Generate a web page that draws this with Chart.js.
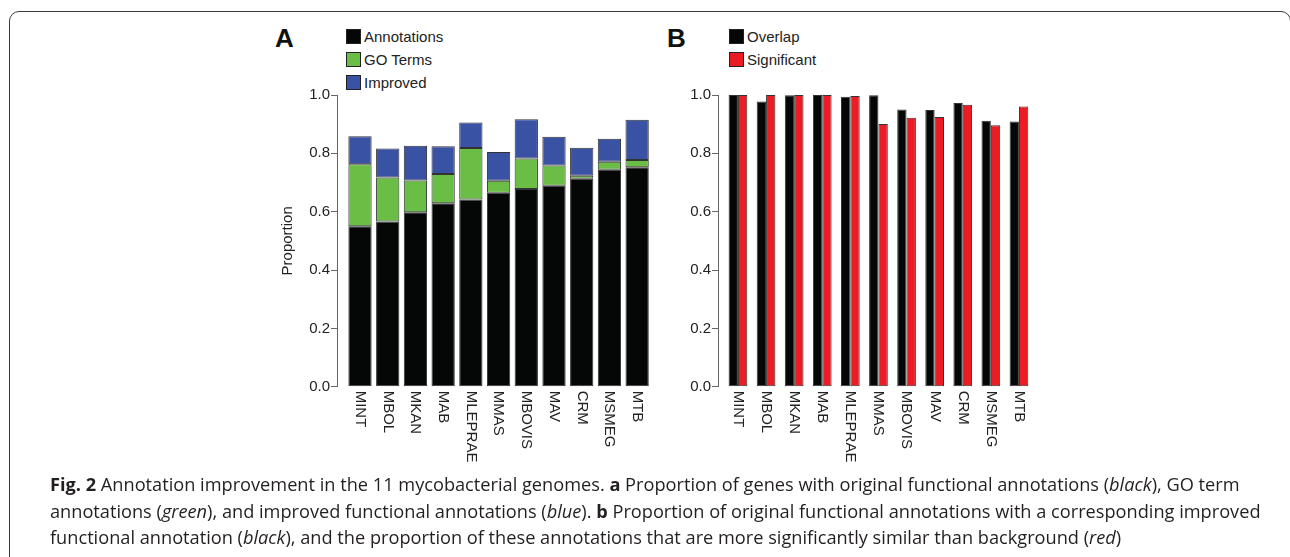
<!DOCTYPE html>
<html lang="en">
<head>
  <meta charset="UTF-8">
  <title>Fig. 2 Annotation improvement</title>
  <script src="https://cdn.jsdelivr.net/npm/chart.js"></script>
  <style>
    html, body {
      margin: 0;
      padding: 0;
      background: #fff;
      overflow: hidden;
      width: 1290px;
      height: 557px;
    }
    .frame {
      position: absolute;
      left: 9px;
      top: 11px;
      width: 1282px;
      height: 600px;
      border: 1.5px solid #3a3a3a;
      border-radius: 10px;
      box-sizing: border-box;
    }
    .panel-letter {
      position: absolute;
      font-family: "Liberation Sans", Arial, sans-serif;
      font-weight: bold;
      font-size: 26px;
      line-height: 26px;
      color: #111;
    }
    .legend {
      position: absolute;
      font-family: "Liberation Sans", Arial, sans-serif;
      font-size: 15px;
      color: #222;
    }
    .legend div {
      height: 23px;
      line-height: 23px;
      white-space: nowrap;
    }
    .legend span {
      display: inline-block;
      width: 13px;
      height: 13px;
      border: 1px solid #222;
      vertical-align: -2px;
      margin-right: 3px;
    }
    canvas {
      position: absolute;
    }
    .caption {
      position: absolute;
      left: 50px;
      top: 471px;
      width: 1222px;
      font-family: "Open Sans", sans-serif;
      font-size: 18.2px;
      line-height: 26.7px;
      color: #231f20;
    }
  </style>
</head>
<body>
  <div class="frame"></div>

  <div class="panel-letter" style="left:275px; top:25px;">A</div>
  <div class="legend" id="legendA" style="left:346px; top:25px;"></div>
  <div style="position:absolute; left:270px; top:80px; width:381px; height:395px;">
    <canvas id="chartA" width="381" height="395" style="left:0; top:0;"></canvas>
  </div>

  <div class="panel-letter" style="left:667px; top:25px;">B</div>
  <div class="legend" id="legendB" style="left:729px; top:25px;"></div>
  <div style="position:absolute; left:670px; top:80px; width:363px; height:395px;">
    <canvas id="chartB" width="363" height="395" style="left:0; top:0;"></canvas>
  </div>

  <div class="caption">
    <b>Fig. 2</b> Annotation improvement in the 11 mycobacterial genomes. <b>a</b> Proportion of genes with original functional annotations (<i>black</i>), GO term annotations (<i>green</i>), and improved functional annotations (<i>blue</i>). <b>b</b> Proportion of original functional annotations with a corresponding improved functional annotation (<i>black</i>), and the proportion of these annotations that are more significantly similar than background (<i>red</i>)
  </div>

  <script>
    const genomes = ["MINT", "MBOL", "MKAN", "MAB", "MLEPRAE", "MMAS", "MBOVIS", "MAV", "CRM", "MSMEG", "MTB"];

    // panel A, stacked segments (proportion of genes)
    const annotations = [0.550, 0.566, 0.598, 0.629, 0.642, 0.665, 0.678, 0.689, 0.713, 0.744, 0.752];
    const goTerms = [0.213, 0.151, 0.109, 0.100, 0.176, 0.041, 0.104, 0.069, 0.010, 0.027, 0.025];
    const improved = [0.096, 0.100, 0.119, 0.095, 0.088, 0.099, 0.135, 0.099, 0.096, 0.079, 0.138];

    // panel B
    const overlap = [1.000, 0.978, 0.999, 1.000, 0.994, 0.999, 0.950, 0.949, 0.973, 0.912, 0.909];
    const significant = [1.000, 1.000, 1.000, 1.000, 0.997, 0.901, 0.922, 0.925, 0.967, 0.896, 0.961];

    const yTicks = [0, 0.2, 0.4, 0.6, 0.8, 1.0];

    const colors = {
      black: "#050707",
      green: "#6abd45",
      blue: "#3a52a4",
      red: "#ec1c24",
      edge: "#333333"
    };

    const font = "'Liberation Sans', Arial, sans-serif";

    const toPoints = (values) => values.map((v, i) => ({ x: i, y: v }));

    const buildLegend = (id, items) => {
      const el = document.getElementById(id);
      items.forEach(([label, color]) => {
        const row = document.createElement("div");
        const box = document.createElement("span");
        box.style.background = color;
        row.appendChild(box);
        row.appendChild(document.createTextNode(label));
        el.appendChild(row);
      });
    };

    buildLegend("legendA", [["Annotations", colors.black], ["GO Terms", colors.green], ["Improved", colors.blue]]);
    buildLegend("legendB", [["Overlap", colors.black], ["Significant", colors.red]]);

    // genome names, rotated to read downwards under each bar
    const genomeLabels = {
      id: "genomeLabels",
      afterDraw(chart) {
        const { ctx, chartArea } = chart;
        const xScale = chart.scales.x;
        ctx.save();
        ctx.font = "15px " + font;
        ctx.fillStyle = "#222";
        ctx.textAlign = "left";
        ctx.textBaseline = "middle";
        genomes.forEach((name, i) => {
          ctx.save();
          ctx.translate(xScale.getPixelForValue(i), chartArea.bottom + 4);
          ctx.rotate(Math.PI / 2);
          ctx.fillText(name, 0, 0);
          ctx.restore();
        });
        ctx.restore();
      }
    };

    const yAxis = (width, withTitle) => ({
      min: 0,
      max: 1,
      afterBuildTicks: (scale) => {
        scale.ticks = yTicks.map((v) => ({ value: v }));
      },
      afterFit: (scale) => {
        scale.width = width;
      },
      ticks: {
        color: "#222",
        padding: 1,
        font: { family: font, size: 15 },
        callback: (v) => v.toFixed(1)
      },
      grid: {
        drawOnChartArea: false,
        drawTicks: true,
        tickLength: 6,
        color: "#666"
      },
      border: { display: true, color: "#666", width: 1 },
      title: {
        display: withTitle,
        text: "Proportion",
        color: "#222",
        padding: { top: 9, bottom: 0 },
        font: { family: font, size: 15 }
      }
    });

    const xAxis = (min, max, stacked) => ({
      type: "linear",
      display: false,
      offset: false,
      grid: { offset: false },
      stacked,
      min,
      max
    });

    const commonOptions = {
      responsive: false,
      animation: false,
      layout: { padding: { top: 15, bottom: 88.3, left: 0, right: 0 } },
      plugins: {
        legend: { display: false },
        tooltip: { enabled: false }
      }
    };

    new Chart(document.getElementById("chartA"), {
      type: "bar",
      data: {
        datasets: [
          { label: "Annotations", data: toPoints(annotations), backgroundColor: colors.black },
          { label: "GO Terms", data: toPoints(goTerms), backgroundColor: colors.green },
          { label: "Improved", data: toPoints(improved), backgroundColor: colors.blue }
        ].map((d) => ({
          ...d,
          borderColor: colors.edge,
          borderWidth: 1,
          borderSkipped: false,
          barPercentage: 0.84,
          categoryPercentage: 1.0
        }))
      },
      options: {
        ...commonOptions,
        scales: {
          x: xAxis(-0.83, 10.5, true),
          y: { ...yAxis(67, true), stacked: true }
        }
      },
      plugins: [genomeLabels]
    });

    new Chart(document.getElementById("chartB"), {
      type: "bar",
      data: {
        datasets: [
          { label: "Overlap", data: toPoints(overlap), backgroundColor: colors.black },
          { label: "Significant", data: toPoints(significant), backgroundColor: colors.red }
        ].map((d) => ({
          ...d,
          borderColor: colors.edge,
          borderWidth: 1,
          borderSkipped: false,
          barPercentage: 1.0,
          categoryPercentage: 0.665
        }))
      },
      options: {
        ...commonOptions,
        scales: {
          x: xAxis(-0.71, 10.5, false),
          y: yAxis(48, false)
        }
      },
      plugins: [genomeLabels]
    });
  </script>
</body>
</html>
